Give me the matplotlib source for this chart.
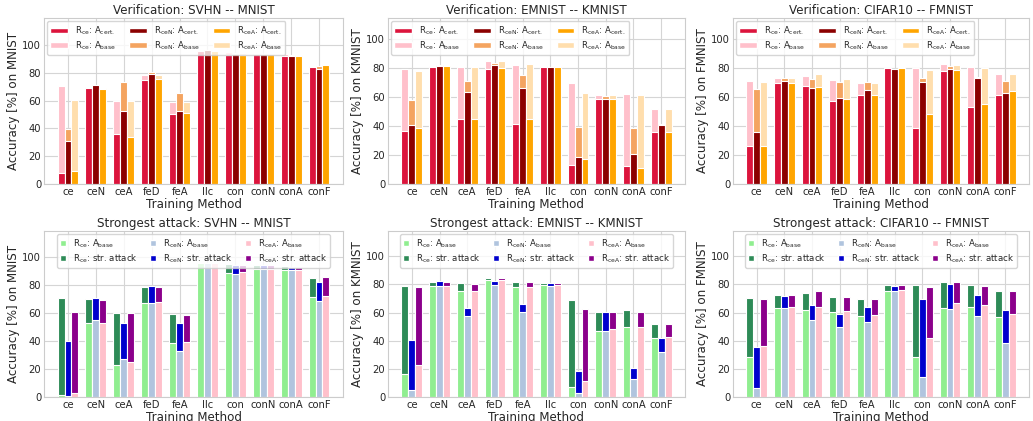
import numpy as np
import matplotlib
matplotlib.use('Agg')
import matplotlib.pyplot as plt
import seaborn as sns
from matplotlib.patches import Patch

methods = ['ce', 'ceN', 'ceA', 'feD', 'feA', 'llc', 'con', 'conN', 'conA', 'conF']

# ---- Verification: SVHN -- MNIST ----
svhn_ce_cert = [7.6, 69, 36, 75, 50.5, 96, 93.3, 94, 92.5, 84.6]
svhn_ce_base = [70.8, 70, 60, 78.8, 59.4, 96, 94.8, 94.3, 93.4, 84.7]
svhn_ceN_cert = [30.8, 71, 52.6, 79, 52.8, 96.3, 94, 93.8, 92.5, 83]
svhn_ceN_base = [39.9, 71, 73.3, 81, 65.8, 96.3, 94.3, 94, 93, 85]
svhn_ceA_cert = [9.5, 68.5, 33.7, 75.5, 51, 96, 93.3, 94, 92.5, 86]
svhn_ceA_base = [60.8, 69.5, 59.8, 78.8, 58.8, 96, 94.5, 94, 92.8, 86]

# ---- Verification: EMNIST -- KMNIST ----
em_ce_cert = [36.3, 81, 44.7, 79.4, 41.7, 81, 13.4, 58.6, 12.3, 35.9]
em_ce_base = [79.2, 81.2, 80.6, 84.7, 82.2, 81.2, 69.7, 61.1, 61.8, 51.9]
em_ceN_cert = [41, 81.7, 63.7, 82.2, 66.4, 80.6, 18.3, 58.6, 20.6, 40.5]
em_ceN_base = [57.9, 81.9, 71, 83.5, 75.2, 80.8, 39.4, 60.6, 38.7, 41.7]
em_ceA_cert = [38.7, 81.5, 44.7, 79.9, 44.7, 81, 17.6, 59, 11.3, 35.9]
em_ceA_base = [78, 81.6, 80.6, 84.7, 82.6, 81.2, 62.5, 61.1, 61.1, 51.9]

# ---- Verification: CIFAR10 -- FMNIST ----
ci_ce_cert = [25.9, 69.3, 67.4, 57, 61.2, 79.7, 38.6, 77.8, 53.1, 61.2]
ci_ce_base = [70.9, 73.2, 74.6, 71.6, 69.7, 79.8, 80.1, 82.4, 80.4, 76]
ci_ceN_cert = [35.8, 71.1, 66.3, 59.4, 64.4, 79, 70.4, 78.8, 73.2, 62.4]
ci_ceN_base = [65.1, 72.7, 72, 70, 70.4, 79.1, 73.2, 81, 73.3, 70.9]
ci_ceA_cert = [25.9, 69.3, 67, 58.2, 61.2, 80.1, 48, 78.5, 55, 64.2]
ci_ceA_base = [70.4, 73.2, 75.5, 72, 69.7, 80.2, 78.3, 82, 80.1, 75.5]

# ---- Strongest attack: SVHN -- MNIST ----
svhn_ce_low = [1.7, 53.2, 22.8, 67.1, 38.4, 95.8, 88.7, 91.8, 90.9, 71.5]
svhn_ce_high = [70.7, 70, 60, 78.7, 59.2, 96, 94.7, 94, 93.3, 84.7]
svhn_ceN_low = [0.7, 55, 26.9, 67, 33, 95.8, 87.8, 91.6, 90.4, 68.3]
svhn_ceN_high = [40, 70.7, 52.8, 79, 52.8, 96, 94, 94, 93, 82.5]
svhn_ceA_low = [2.6, 52.8, 24.7, 67.6, 39.6, 95.8, 89.4, 91.8, 90.9, 72]
svhn_ceA_high = [61, 69.5, 60, 78.7, 58.5, 96, 94.5, 94.2, 93, 85.6]

# ---- Strongest attack: EMNIST -- KMNIST ----
em_ce_low = [16, 78.8, 75.7, 82.9, 78.1, 79.8, 7.1, 47.1, 50, 41.9]
em_ce_high = [78.8, 81.9, 80.7, 84.8, 82.1, 81.2, 69, 60.7, 61.9, 51.9]
em_ceN_low = [4.8, 79, 57.6, 79.5, 60.5, 78.8, 2.6, 47.1, 13.1, 31.9]
em_ceN_high = [40.5, 82.4, 63.6, 82.4, 66, 80.7, 18.3, 60.2, 20.5, 42.1]
em_ceA_low = [23.1, 79, 75.7, 83.3, 78.1, 79.5, 11.4, 48.1, 49.5, 42.4]
em_ceA_high = [77.9, 81.9, 80.5, 84.5, 81.9, 81, 62.4, 60.7, 60.7, 51.7]

# ---- Strongest attack: CIFAR10 -- FMNIST ----
ci_ce_low = [28.1, 63.1, 61.9, 60.2, 57.4, 75.5, 28.6, 63.6, 64.3, 56.7]
ci_ce_high = [70.7, 72.6, 73.8, 71, 69.5, 79.5, 79.3, 81.9, 79.5, 75.5]
ci_ceN_low = [6.7, 63.6, 54.8, 49.5, 53.1, 75.5, 14.3, 62.9, 57.6, 38.6]
ci_ceN_high = [35.7, 71.9, 65.5, 59, 63.8, 78.6, 69.5, 80.5, 72.6, 61.9]
ci_ceA_low = [36.4, 63.8, 63.8, 61.2, 58.1, 76.2, 41.7, 66.7, 65.2, 59]
ci_ceA_high = [70, 72.6, 75, 71.4, 69.5, 79.5, 77.9, 81.9, 79, 75]

sns.set_style('whitegrid')
plt.rcParams['font.family'] = ['DejaVu Sans']
plt.rcParams['mathtext.default'] = 'regular'
plt.rcParams['axes.edgecolor'] = '#cccccc'
plt.rcParams['grid.color'] = '#d5d5d5'

W, H = 1033, 421
fig = plt.figure(figsize=(W / 100, H / 100), dpi=100)

lefts = [44, 388, 733]
widths = [299, 297, 296]
rows = [(18, 184), (231, 397)]

top_colors = [('crimson', 'pink'), ('darkred', 'sandybrown'), ('orange', 'navajowhite')]
bot_colors = [('lightgreen', 'seagreen'), ('lightsteelblue', 'mediumblue'), ('pink', 'darkmagenta')]
series_names = [r'R$_{ce}$', r'R$_{ceN}$', r'R$_{ceA}$']

top_panels = [
    ('Verification: SVHN -- MNIST', 'MNIST',
     [(svhn_ce_cert, svhn_ce_base), (svhn_ceN_cert, svhn_ceN_base), (svhn_ceA_cert, svhn_ceA_base)], 119.6),
    ('Verification: EMNIST -- KMNIST', 'KMNIST',
     [(em_ce_cert, em_ce_base), (em_ceN_cert, em_ceN_base), (em_ceA_cert, em_ceA_base)], 114.6),
    ('Verification: CIFAR10 -- FMNIST', 'FMNIST',
     [(ci_ce_cert, ci_ce_base), (ci_ceN_cert, ci_ceN_base), (ci_ceA_cert, ci_ceA_base)], 114.2),
]
bot_panels = [
    ('Strongest attack: SVHN -- MNIST', 'MNIST',
     [(svhn_ce_low, svhn_ce_high), (svhn_ceN_low, svhn_ceN_high), (svhn_ceA_low, svhn_ceA_high)], 118.6),
    ('Strongest attack: EMNIST -- KMNIST', 'KMNIST',
     [(em_ce_low, em_ce_high), (em_ceN_low, em_ceN_high), (em_ceA_low, em_ceA_high)], 118.0),
    ('Strongest attack: CIFAR10 -- FMNIST', 'FMNIST',
     [(ci_ce_low, ci_ce_high), (ci_ceN_low, ci_ceN_high), (ci_ceA_low, ci_ceA_high)], 118.0),
]

x = np.arange(len(methods))
bw = 0.25
offsets = [-bw, 0, bw]
TXT = '#262626'


def style_axes(ax, title, ds, ytop):
    ax.set_xticks(x)
    ax.set_xticklabels(methods)
    ax.set_yticks([0, 20, 40, 60, 80, 100])
    ax.set_ylim(0, ytop)
    ax.set_xlim(-0.86, 9.86)
    ax.tick_params(axis='both', labelsize=7.2, colors=TXT, pad=2, length=0)
    ax.set_title(title, fontsize=8.6, color=TXT, pad=3)
    ax.set_xlabel('Training Method', fontsize=8.6, color=TXT, labelpad=1)
    ax.set_ylabel('Accuracy [%] on ' + ds, fontsize=8.6, color=TXT, labelpad=2)
    ax.grid(True, color='#d5d5d5', linewidth=0.8)
    ax.set_axisbelow(True)
    for s in ax.spines.values():
        s.set_color('#cccccc')
        s.set_linewidth(0.8)


for i, (title, ds, data, ytop) in enumerate(top_panels):
    l, w = lefts[i], widths[i]
    t, b = rows[0]
    ax = fig.add_axes([l / W, 1 - b / H, w / W, (b - t) / H])
    handles = []
    for k, (cert, base) in enumerate(data):
        dark, light = top_colors[k]
        ax.bar(x + offsets[k], base, bw, color=light, edgecolor='white', linewidth=0.8)
        ax.bar(x + offsets[k], cert, bw, color=dark, edgecolor='white', linewidth=0.8)
        handles.append(Patch(facecolor=dark, edgecolor='white', label=series_names[k] + r': A$_{cert.}$'))
        handles.append(Patch(facecolor=light, edgecolor='white', label=series_names[k] + r': A$_{base}$'))
    style_axes(ax, title, ds, ytop)
    ax.legend(handles=handles, ncol=3, loc='upper left', fontsize=6.2, frameon=True,
              handlelength=2.0, handleheight=0.6, columnspacing=1.6, labelspacing=0.25,
              borderpad=0.35, borderaxespad=0.4, handletextpad=0.8, framealpha=0.8,
              edgecolor='#cccccc')

for i, (title, ds, data, ytop) in enumerate(bot_panels):
    l, w = lefts[i], widths[i]
    t, b = rows[1]
    ax = fig.add_axes([l / W, 1 - b / H, w / W, (b - t) / H])
    handles = []
    for k, (low, high) in enumerate(data):
        light, dark = bot_colors[k]
        ax.bar(x + offsets[k], high, bw, color=dark, edgecolor='white', linewidth=0.8)
        ax.bar(x + offsets[k], low, bw, color=light, edgecolor='white', linewidth=0.8)
        handles.append(Patch(facecolor=light, edgecolor='white', label=series_names[k] + r': A$_{base}$'))
        handles.append(Patch(facecolor=dark, edgecolor='white', label=series_names[k] + r': str. attack'))
    style_axes(ax, title, ds, ytop)
    ax.legend(handles=handles, ncol=3, loc='upper center', fontsize=6.2, frameon=True,
              handlelength=0.7, handleheight=0.7, columnspacing=1.4, labelspacing=0.25,
              borderpad=0.35, borderaxespad=0.4, handletextpad=0.8, framealpha=0.8,
              edgecolor='#cccccc')

fig.savefig('out.png', dpi=100)
